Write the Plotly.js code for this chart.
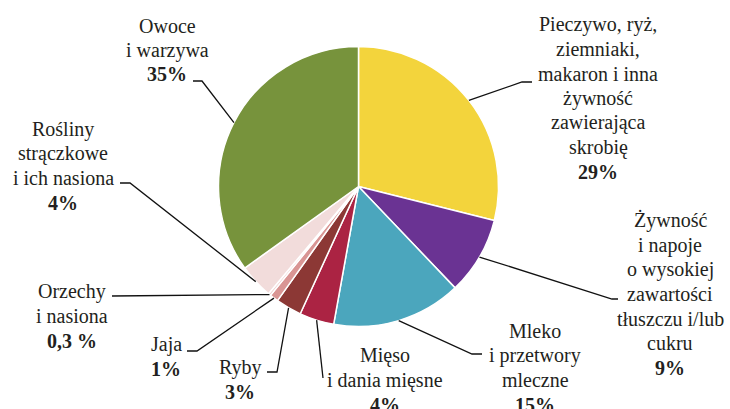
<!DOCTYPE html>
<html>
<head>
<meta charset="utf-8">
<script src="https://cdn.plot.ly/plotly-3.0.1.min.js"></script>
</head>
<body style="margin:0">
<div id="chart" style="width:730px;height:409px"></div>
<script>
// Data
const categories = [
    ['Pieczywo, ryż,', 'ziemniaki,', 'makaron i inna', 'żywność', 'zawierająca', 'skrobię'],
    ['Żywność', 'i napoje', 'o wysokiej', 'zawartości', 'tłuszczu i/lub', 'cukru'],
    ['Mleko', 'i przetwory', 'mleczne'],
    ['Mięso', 'i dania mięsne'],
    ['Ryby'],
    ['Jaja'],
    ['Orzechy', 'i nasiona'],
    ['Rośliny', 'strączkowe', 'i ich nasiona'],
    ['Owoce', 'i warzywa']
];
const shares = [29, 9, 15, 4, 3, 1, 0.3, 4, 35];
const pctLabels = ['29%', '9%', '15%', '4%', '3%', '1%', '0,3 %', '4%', '35%'];

// Styles
const sliceColors = ['#f3d43c', '#6a3393', '#4ba6bd', '#ab2343', '#8c3835',
                     '#d99594', '#f0d3d3', '#f2dcdb', '#77933c'];

// Layout (pixels in the 730x409 frame)
const W = 730, H = 409;
const cx = 358.5, cy = 186.5, r = 140;
const lineGap = 24.5;
const labelPos = [[598, 98], [670, 294], [535, 368], [385, 380], [240, 380],
                  [166, 357], [72, 316], [63, 166], [167, 50]];
const elbowPos = [[522, 82], [612, 299], [472, 354], [323, 378], [277, 372],
                  [197, 351], [112, 296], [130, 183], [202, 81]];
const endPos = [[532, 82], [618, 299], [482, 354], [323, 378], [267, 372],
                [187, 351], [112, 296], [120, 183], [193, 81]];

const px = x => x / W;
const py = y => 1 - y / H;

const total = shares.reduce((a, b) => a + b, 0);
let cum = 0;
const shapes = [];
const annotations = [];
shares.forEach((v, i) => {
    const theta = 2 * Math.PI * (cum + v / 2) / total;
    cum += v;
    const tx = cx + r * Math.sin(theta);
    const ty = cy - r * Math.cos(theta);
    shapes.push({
        type: 'path', xref: 'paper', yref: 'paper',
        path: `M ${px(tx)},${py(ty)} L ${px(elbowPos[i][0])},${py(elbowPos[i][1])} L ${px(endPos[i][0])},${py(endPos[i][1])}`,
        line: { color: '#111', width: 1.3 }
    });
    // one annotation per text line, percentage last in bold
    const lines = categories[i].concat([pctLabels[i]]);
    const top = labelPos[i][1] - (lines.length - 1) / 2 * lineGap;
    lines.forEach((txt, k) => {
        const isPct = k === lines.length - 1;
        annotations.push({
            xref: 'paper', yref: 'paper',
            x: px(labelPos[i][0]), y: py(top + k * lineGap),
            xanchor: 'center', yanchor: 'middle',
            showarrow: false,
            text: txt,
            font: { family: 'Liberation Serif', size: 20, color: '#231f20',
                    weight: isPct ? 'bold' : 'normal' }
        });
    });
});

const trace = {
    type: 'pie',
    values: shares,
    labels: categories.map(l => l.join(' ')),
    sort: false,
    direction: 'clockwise',
    rotation: 0,
    textinfo: 'none',
    hoverinfo: 'none',
    marker: { colors: sliceColors, line: { color: '#ffffff', width: 1.5 } },
    domain: { x: [px(cx - r), px(cx + r)], y: [py(cy + r), py(cy - r)] }
};

const layout = {
    width: W, height: H,
    margin: { t: 0, b: 0, l: 0, r: 0 },
    paper_bgcolor: '#ffffff',
    font: { family: 'Liberation Serif', color: '#231f20' },
    showlegend: false,
    shapes: shapes,
    annotations: annotations
};

Plotly.newPlot('chart', [trace], layout, { staticPlot: true });
</script>
</body>
</html>
